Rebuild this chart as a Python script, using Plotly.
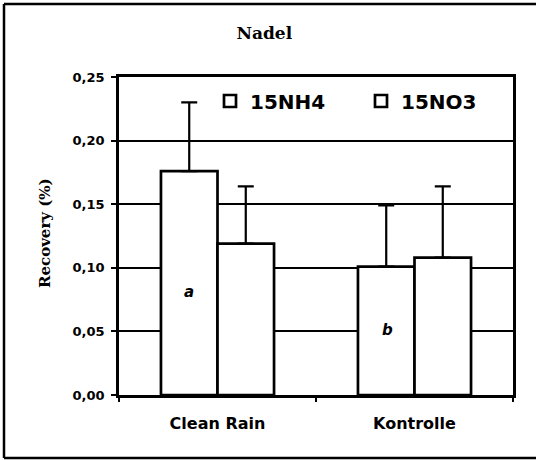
import plotly.graph_objects as go

categories = ["Clean Rain", "Kontrolle"]
nh4_values = [0.176, 0.101]
nh4_errors = [0.054, 0.048]
no3_values = [0.119, 0.108]
no3_errors = [0.045, 0.056]
series_names = ["15NH4", "15NO3"]
y_ticks = [0.0, 0.05, 0.10, 0.15, 0.20, 0.25]
letters = ["a", "b"]

bar_line = dict(color="black", width=2.7)
err_style = dict(type="data", symmetric=False, thickness=2.2, width=8, color="black")

fig = go.Figure()
fig.add_trace(go.Bar(
    x=categories, y=nh4_values, name=series_names[0],
    marker=dict(color="white", line=bar_line),
    error_y=dict(array=nh4_errors, arrayminus=[0, 0], **err_style),
))
fig.add_trace(go.Bar(
    x=categories, y=no3_values, name=series_names[1],
    marker=dict(color="white", line=bar_line),
    error_y=dict(array=no3_errors, arrayminus=[0, 0], **err_style),
))

fig.update_layout(
    width=536, height=460,
    margin=dict(l=119, r=23, t=77, b=65),
    paper_bgcolor="white", plot_bgcolor="white",
    separators=",.",
    barmode="group", bargap=0.426, bargroupgap=0,
    showlegend=True,
    legend=dict(orientation="h", x=(210 - 119) / 394, y=(395 - 101) / 318,
                xanchor="left", yanchor="middle",
                bgcolor="rgba(0,0,0,0)",
                font=dict(family="DejaVu Sans", size=20, color="black", weight="bold"),
                entrywidth=106, itemclick=False),
    title=dict(text="Nadel", x=0.493, xref="container", y=1 - 33 / 460, yref="container",
               xanchor="center", yanchor="middle",
               font=dict(family="DejaVu Serif", size=17, color="black", weight="bold")),
    font=dict(family="DejaVu Sans", color="black"),
)

fig.update_yaxes(
    range=[0, 0.25], tickvals=y_ticks, tickformat=".2f",
    showgrid=True, gridcolor="black", gridwidth=2,
    showline=True, linecolor="black", linewidth=2.5, mirror=True,
    ticks="outside", ticklen=5, tickwidth=2, tickcolor="black",
    ticklabelstandoff=4,
    tickfont=dict(family="DejaVu Sans", size=13, color="black", weight="bold"),
    zeroline=False,
)
fig.update_xaxes(
    showgrid=False,
    showline=True, linecolor="black", linewidth=2.5, mirror=True,
    ticks="outside", tickson="boundaries", ticklen=4, tickwidth=2, tickcolor="black",
    ticklabelstandoff=12,
    tickfont=dict(family="DejaVu Sans", size=16, color="black", weight="bold"),
)

fig.add_annotation(text="Recovery (%)", textangle=-90, xref="paper", yref="paper",
                   x=(45 - 119) / 394, y=(395 - 233) / 318, showarrow=False,
                   xanchor="center", yanchor="middle",
                   font=dict(family="DejaVu Serif", size=15, color="black", weight="bold"))

fig.add_annotation(text="<i>" + letters[0] + "</i>", xref="paper", yref="paper",
                   x=(189 - 119) / 394, y=(395 - 292) / 318, showarrow=False,
                   xanchor="center", yanchor="middle",
                   font=dict(family="DejaVu Sans", size=15, color="black", weight="bold"))
fig.add_annotation(text="<i>" + letters[1] + "</i>", xref="paper", yref="paper",
                   x=(387 - 119) / 394, y=(395 - 330) / 318, showarrow=False,
                   xanchor="center", yanchor="middle",
                   font=dict(family="DejaVu Sans", size=15, color="black", weight="bold"))

# outer frame (left, top, bottom; right side cut off in the original)
fl, fr = (4 - 119) / 394, (536 - 119) / 394
ft, fb = (395 - 4) / 318, (395 - 458) / 318
frame_line = dict(color="black", width=2.5)
fig.add_shape(type="line", xref="paper", yref="paper", x0=fl, x1=fr, y0=ft, y1=ft,
              line=frame_line, layer="below")
fig.add_shape(type="line", xref="paper", yref="paper", x0=fl, x1=fr, y0=fb, y1=fb,
              line=frame_line, layer="below")
fig.add_shape(type="line", xref="paper", yref="paper", x0=fl, x1=fl, y0=fb, y1=ft,
              line=frame_line, layer="below")

fig.write_html("out.html", config={"displayModeBar": False},
               post_script="document.body.style.margin='0px';")
